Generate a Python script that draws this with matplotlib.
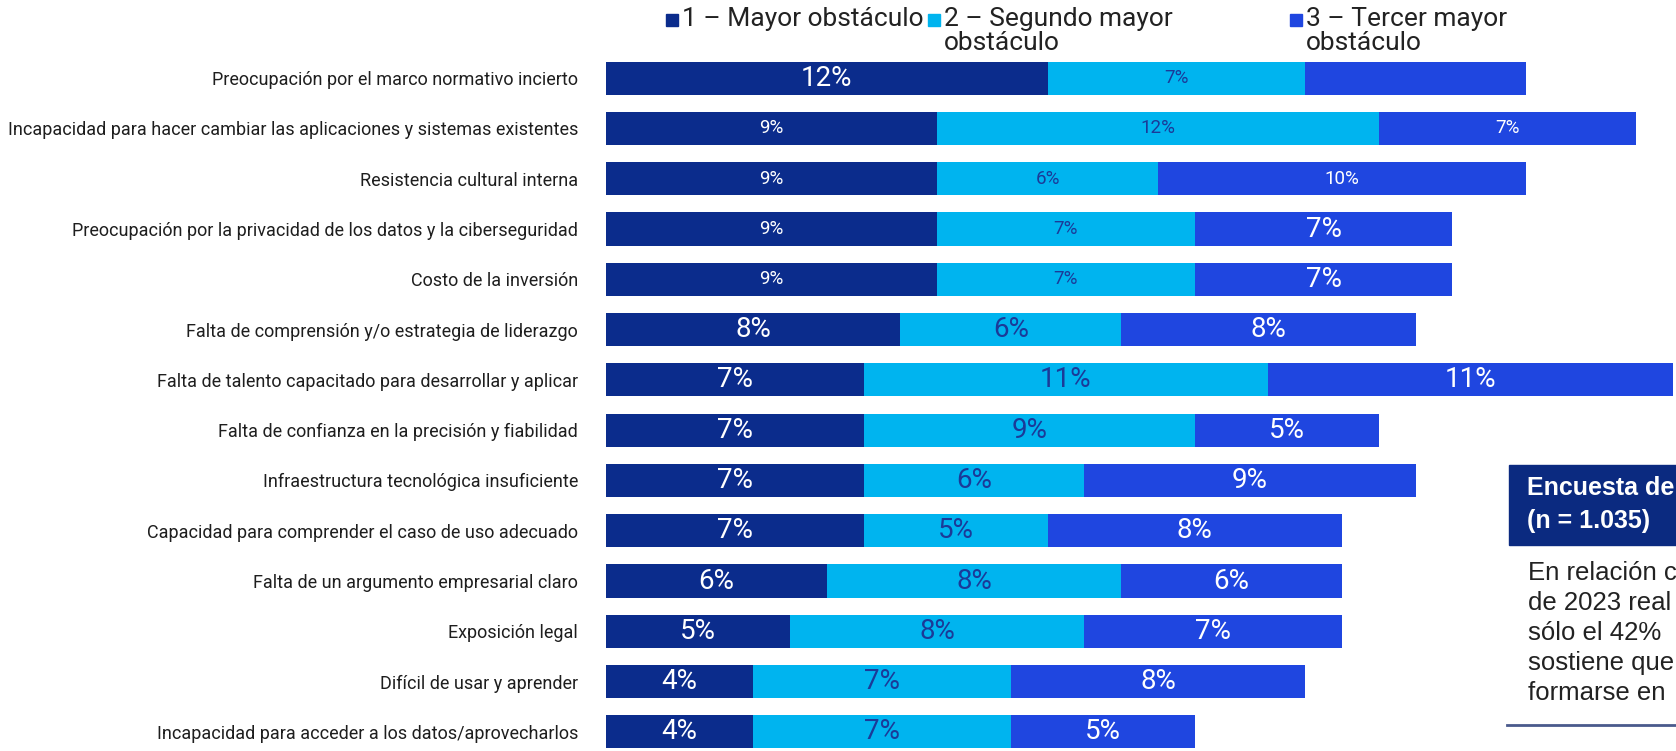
import matplotlib.pyplot as plt
from matplotlib.patches import Rectangle

# obstacles, top to bottom
obstaculos = [
    "Preocupación por el marco normativo incierto",
    "Incapacidad para hacer cambiar las aplicaciones y sistemas existentes",
    "Resistencia cultural interna",
    "Preocupación por la privacidad de los datos y la ciberseguridad",
    "Costo de la inversión",
    "Falta de comprensión y/o estrategia de liderazgo",
    "Falta de talento capacitado para desarrollar y aplicar",
    "Falta de confianza en la precisión y fiabilidad",
    "Infraestructura tecnológica insuficiente",
    "Capacidad para comprender el caso de uso adecuado",
    "Falta de un argumento empresarial claro",
    "Exposición legal",
    "Difícil de usar y aprender",
    "Incapacidad para acceder a los datos/aprovecharlos",
]

mayor = [12, 9, 9, 9, 9, 8, 7, 7, 7, 7, 6, 5, 4, 4]
segundo = [7, 12, 6, 7, 7, 6, 11, 9, 6, 5, 8, 8, 7, 7]
tercer = [6, 7, 10, 7, 7, 8, 11, 5, 9, 8, 6, 7, 8, 5]

series = ["1 – Mayor obstáculo", "2 – Segundo mayor\nobstáculo", "3 – Tercer mayor\nobstáculo"]

# label size per segment: "s" small, "l" large, "" no label
label_size = [
    ["l", "s", ""],
    ["s", "s", "s"],
    ["s", "s", "s"],
    ["s", "s", "l"],
    ["s", "s", "l"],
] + [["l", "l", "l"]] * 9

colors = ["#0b2c8c", "#00b4ef", "#1f46e0"]
text_colors = ["white", "#1b3a98", "white"]
font = dict(family="Roboto")

W, H = 1676, 751
fig = plt.figure(figsize=(W / 100, H / 100), dpi=100)
ax = fig.add_axes([606 / W, 0, 1 - 606 / W, 1 - 53 / H])

y = list(range(len(obstaculos)))
left = [0] * len(y)
for k, vals in enumerate([mayor, segundo, tercer]):
    bars = ax.barh(y, vals, left=left, height=0.66, color=colors[k], linewidth=0)
    for i, (b, v) in enumerate(zip(bars, vals)):
        size = label_size[i][k]
        if not size:
            continue
        ax.text(b.get_x() + b.get_width() / 2, i, f"{v}%",
                ha="center", va="center", color=text_colors[k],
                fontsize=20 if size == "l" else 13.5, **font)
    left = [a + b for a, b in zip(left, vals)]

ax.set_xlim(0, 1070 / 36.8)
ax.set_ylim(13.38, -0.5)
ax.set_yticks(y)
ax.set_yticklabels(obstaculos, fontsize=13, color="#1e1e1e", **font)
ax.tick_params(axis="y", length=0, pad=20)
ax.set_xticks([])
for s in ax.spines.values():
    s.set_visible(False)

# legend across the top
legend_x = [666, 928, 1290]
for k, lab in enumerate(series):
    fig.patches.append(Rectangle((legend_x[k] / W, 1 - 26 / H), 12 / W, 12 / H,
                                 transform=fig.transFigure, color=colors[k]))
    fig.text((legend_x[k] + 16) / W, 1 - 7 / H, lab, ha="left", va="top",
             fontsize=19, color="#222222", linespacing=1.0, **font)

# survey box on the right
fig.patches.append(Rectangle((1509 / W, 1 - 545 / H), (W - 1509) / W, 80 / H,
                             transform=fig.transFigure, color="#0b2a80"))
fig.text(1527 / W, 1 - 488 / H, "Encuesta de", color="white", fontsize=18,
         fontweight="bold", family="Liberation Sans", va="center")
fig.text(1527 / W, 1 - 521 / H, "(n = 1.035)", color="white", fontsize=18,
         fontweight="bold", family="Liberation Sans", va="center")
body = ["En relación c", "de 2023 real", "sólo el 42%", "sostiene que", "formarse en"]
for j, line in enumerate(body):
    fig.text(1528 / W, 1 - (573 + 30 * j) / H, line, color="#222222", fontsize=18.5,
             family="Liberation Sans", va="center")
fig.add_artist(plt.Line2D([1507 / W, 1], [1 - 725 / H] * 2, color="#4a5a8c",
                          linewidth=2, transform=fig.transFigure))

fig.savefig("out.png", dpi=100)
